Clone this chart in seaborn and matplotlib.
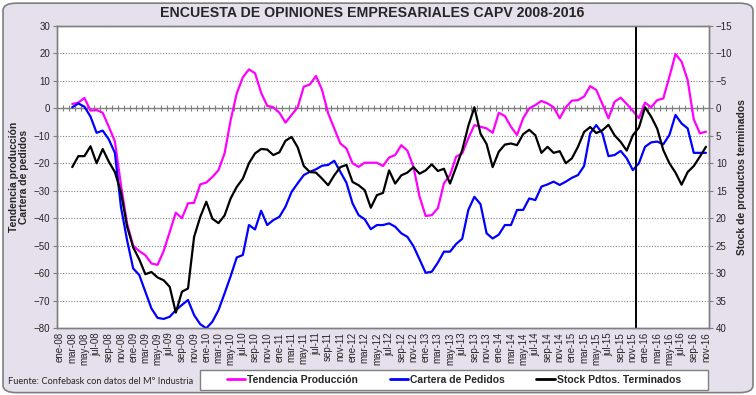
import numpy as np
import pandas as pd
import matplotlib
matplotlib.use("Agg")
import matplotlib.pyplot as plt
import seaborn as sns
from matplotlib.patches import FancyBboxPatch, Rectangle
from matplotlib.lines import Line2D

# ================= DATOS =================
meses = ["ene", "feb", "mar", "abr", "may", "jun", "jul", "ago", "sep", "oct", "nov", "dic"]
anios = ["08", "09", "10", "11", "12", "13", "14", "15", "16"]
# categorias ene-08 ... nov-16
categorias = [f"{m}-{a}" for a in anios for m in meses][:-1]
inicio_serie = "mar-08"   # primer mes con dato
mes_corte = "dic-15"      # linea vertical (entre nov-15 y dic-15)

# Tendencia produccion (eje izq.), mar-08 ... nov-16
tendencia_produccion = [
    1.6, 2.1, 3.8, -0.8, -0.6, -1.6, -6.7, -12, -28, -42,
    -50, -52, -53.5, -56.5, -57, -52, -45, -38, -40, -34.6, -34.4, -27.7,
    -27, -25, -22.5, -16.4, -4.3, 5.5, 11.3, 14.2, 12.8, 5.7, 0.9, 0.4,
    -1.6, -5.2, -2.4, 0.4, 7.9, 8.7, 11.8, 6.7, -1.8, -7.3, -12.8, -14.6,
    -20, -21.3, -19.8, -19.8, -19.8, -21, -17.9, -17, -13.4, -15.4, -21.3, -32.2,
    -39.2, -38.9, -36.4, -27.3, -24.3, -17.6, -16.4, -10.9, -6.1, -6.7, -7.3, -8.9,
    -1.6, -2.8, -6.7, -9.7, -3.6, 0, 1.2, 2.7, 1.8, 0.4, -3.6, 0.4,
    2.8, 3, 4.3, 8.1, 6.7, 1.6, -3.6, 2.4, 3.9, 1.6, -0.9, -3.6,
    2.1, 0.4, 3, 3.6, 11.5, 19.8, 17, 10.3, -4, -9.1, -8.5,
]

# Cartera de pedidos (eje izq.)
cartera_pedidos = [
    0.4, 1.8, 0.6, -3, -8.9, -8.1, -11.3, -16.2, -36, -48,
    -58.3, -60.7, -66.8, -72.9, -76.3, -76.7, -75.9, -73.5, -71.6, -69.8, -75.3, -78.6,
    -80.1, -77.7, -73.5, -67.4, -61.1, -54.3, -53.4, -42.5, -44.1, -37.3, -42.5, -40.7,
    -39.5, -35.8, -30.4, -27.3, -24.3, -23.1, -22.2, -20.9, -20.6, -19.1, -23.1, -27.1,
    -34.6, -38.9, -40.4, -44, -42.5, -42.5, -41.9, -43.1, -45.5, -46.8, -50.2, -55,
    -59.9, -59.5, -56.2, -52.2, -52.2, -49.4, -47.5, -37, -32.2, -34.9, -45.5, -47.4,
    -46, -42.5, -42.5, -37, -37, -32.8, -33.4, -28.5, -27.7, -26.7, -27.9, -26.7,
    -25.3, -24.3, -21, -9.1, -6.1, -9.1, -17.4, -17, -15.5, -18.2, -22.5, -20,
    -14, -12.4, -12.1, -13.1, -9.7, -2.4, -5.5, -7.3, -16.2, -16.2, -16.2,
]

# Stock de productos terminados (eje dcho., invertido)
stock_terminados = [
    10.7, 8.7, 8.7, 6.9, 10.0, 7.4, 9.7, 11.6, 15.3, 21.5,
    25.3, 27.5, 30.2, 29.8, 30.8, 31.3, 32.5, 37.2, 33.4, 32.8, 23.4, 19.8,
    17.0, 20.1, 20.9, 19.5, 16.4, 14.3, 12.8, 10.0, 8.2, 7.4, 7.5, 8.5,
    8.0, 5.9, 5.2, 7.1, 10.5, 11.6, 11.7, 12.8, 14.0, 12.2, 10.7, 10.3,
    13.4, 14.0, 14.9, 18.1, 15.8, 15.4, 11.3, 13.7, 12.2, 11.7, 10.7, 11.9,
    11.3, 10.2, 11.4, 11.0, 13.7, 10.7, 7.6, 3.2, -0.2, 4.6, 6.5, 10.7,
    7.9, 6.6, 6.4, 6.7, 4.7, 3.9, 4.9, 8.1, 7.0, 8.1, 7.8, 10.0,
    9.1, 7.0, 4.3, 3.4, 4.5, 4.0, 3.0, 4.9, 6.1, 7.7, 4.9, 3.5,
    -0.2, 1.5, 3.7, 7.6, 10.0, 11.7, 13.9, 11.6, 10.5, 8.8, 7.0,
]

# ================= ESTILO =================
FONDO = "#E5E0EC"
GRIS = "#808080"
C_TEND = "#FF00FF"
C_CART = "#0000FF"
C_STOCK = "#000000"

sns.set_style("white")
plt.rcParams["font.family"] = ["Liberation Sans", "DejaVu Sans"]

# tabla con el eje completo de categorias
pad = [np.nan] * categorias.index(inicio_serie)
df = pd.DataFrame({
    "pos": np.arange(len(categorias)),
    "mes": categorias,
    "tendencia": pad + tendencia_produccion,
    "cartera": pad + cartera_pedidos,
    "stock": pad + stock_terminados,
})

fig = plt.figure(figsize=(7.56, 3.95), dpi=100)
fig.patch.set_facecolor("white")
fondo = FancyBboxPatch((0.004, 0.006), 0.992, 0.986,
                       boxstyle="round,pad=0,rounding_size=0.018",
                       transform=fig.transFigure, facecolor=FONDO,
                       edgecolor="#7f7f7f", linewidth=1.2, zorder=-10)
fig.patches.append(fondo)
# marco de la leyenda
fig.patches.append(Rectangle((200 / 756, 1 - 390 / 395), 508 / 756, 20 / 395,
                             transform=fig.transFigure, facecolor="white",
                             edgecolor=GRIS, linewidth=1.0, zorder=-5))

ax = fig.add_axes([57 / 756, 1 - 328 / 395, 652 / 756, 302 / 395])
ax.set_facecolor("white")

# rejilla punteada y eje de categorias en 0
ax.grid(axis="y", linestyle=(0, (1, 1.5)), color=GRIS, linewidth=0.8)
ax.grid(axis="x", visible=False)
ax.axhline(0, color=GRIS, linewidth=1.0, zorder=2)
limites = np.arange(len(categorias) + 1) - 0.5
ax.plot(limites, np.zeros_like(limites), linestyle="none", marker="|",
        markersize=5, markeredgewidth=0.8, color=GRIS, zorder=2)

sns.lineplot(data=df, x="pos", y="tendencia", ax=ax, color=C_TEND, linewidth=1.6, zorder=3)
sns.lineplot(data=df, x="pos", y="cartera", ax=ax, color=C_CART, linewidth=1.6, zorder=3)

ax.axvline(categorias.index(mes_corte) - 0.5, color="black", linewidth=1.4, zorder=4)

ax.set_xlim(-0.5, len(categorias) - 0.5)
ax.set_ylim(-80, 30)
ax.set_yticks(range(-80, 31, 10))
ax.set_xticks(df["pos"][::2])
ax.set_xticklabels(df["mes"][::2], rotation=90, fontsize=7)
ax.tick_params(axis="x", length=0, pad=3)
ax.tick_params(axis="y", length=3, color=GRIS, labelsize=7, pad=2)
ax.set_xlabel("")
ax.set_ylabel("Tendencia producción\nCartera de pedidos", fontsize=7.5,
              fontweight="bold", labelpad=3, linespacing=1.0)
for s in ax.spines.values():
    s.set_color(GRIS)
    s.set_linewidth(1.0)

ax2 = ax.twinx()
sns.lineplot(data=df, x="pos", y="stock", ax=ax2, color=C_STOCK, linewidth=1.6)
ax2.set_ylim(40, -15)
ax2.set_yticks(range(-15, 41, 5))
ax2.tick_params(axis="y", length=3, color=GRIS, labelsize=7, pad=2)
ax2.set_ylabel("Stock de productos terminados", fontsize=7.5, fontweight="bold", labelpad=3)
for s in ax2.spines.values():
    s.set_color(GRIS)
    s.set_linewidth(1.0)

fig.text(0.492, 0.967, "ENCUESTA DE OPINIONES EMPRESARIALES CAPV 2008-2016",
         ha="center", va="center", fontsize=10.2, fontweight="bold")

fig.text(8 / 756, 1 - 381 / 395, "Fuente: Confebask con datos del Mº Industria",
         ha="left", va="center", fontsize=6.7, family=["Lato", "DejaVu Sans"])

handles = [Line2D([], [], color=C_TEND, linewidth=2),
           Line2D([], [], color=C_CART, linewidth=2),
           Line2D([], [], color=C_STOCK, linewidth=2)]
etiquetas = ["Tendencia Producción", "Cartera de Pedidos", "Stock Pdtos. Terminados"]
leg = fig.legend(handles, etiquetas, loc="center", ncol=3,
                 bbox_to_anchor=(454 / 756, 1 - 380 / 395),
                 frameon=False, prop={"weight": "bold", "size": 7.5},
                 handlelength=1.8, handletextpad=0.2, columnspacing=3.0,
                 borderaxespad=0, borderpad=0)

plt.savefig("out.png", dpi=100, facecolor=fig.get_facecolor())
